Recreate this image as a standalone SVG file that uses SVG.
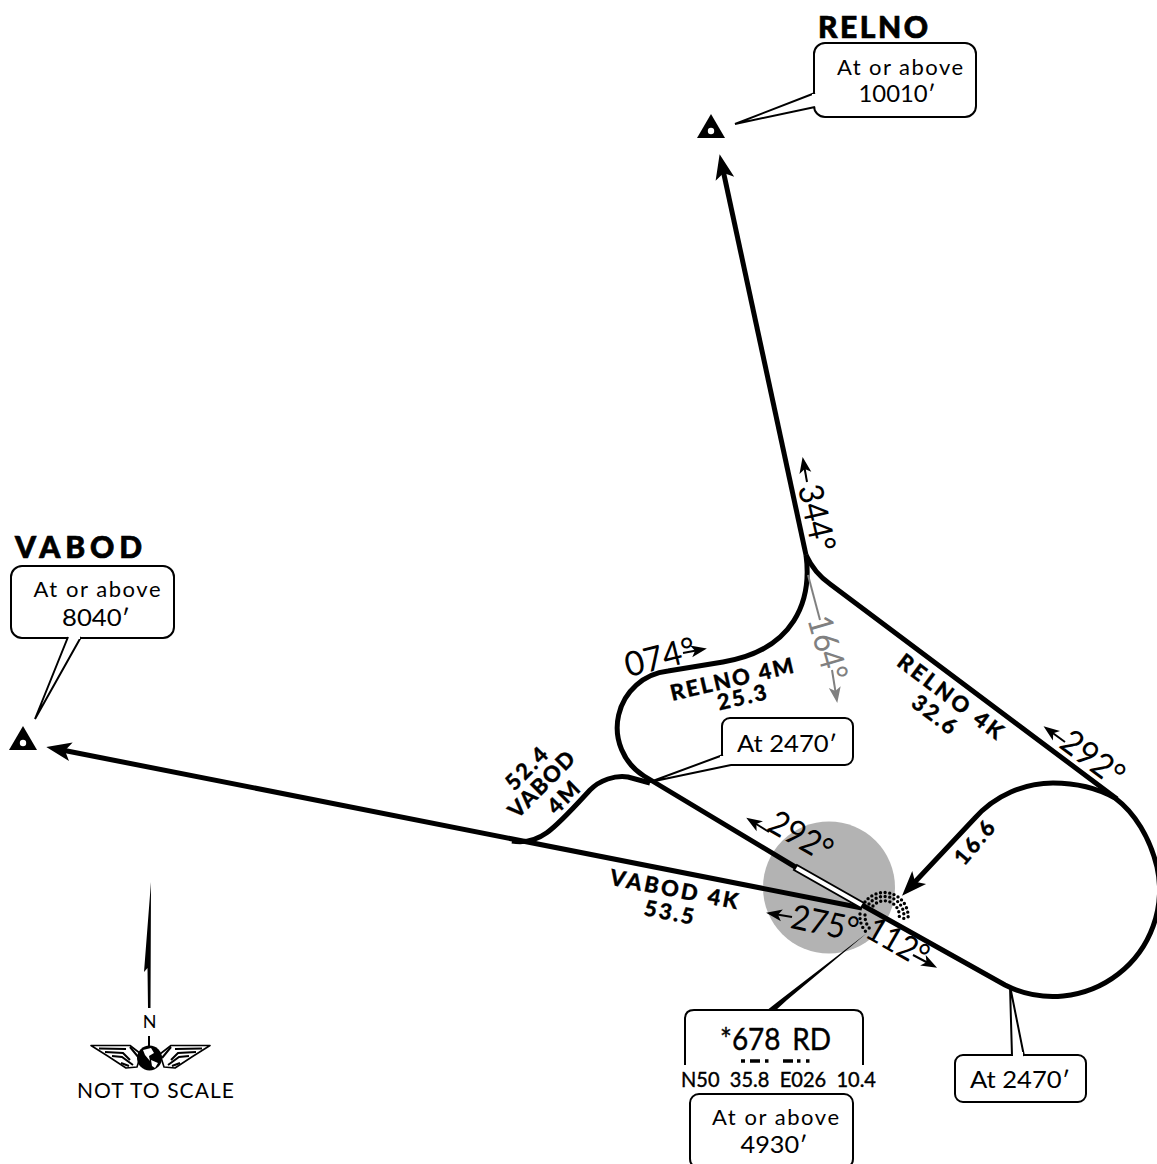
<svg xmlns="http://www.w3.org/2000/svg" width="1157" height="1164" viewBox="0 0 1157 1164">
<style>
text{font-family:"Lato","Liberation Sans",sans-serif;fill:#000;text-anchor:middle}
.t{font-size:24px}
.a{font-size:22px}
.h{font-size:34px}
.l{font-size:22px;font-weight:900;stroke:#000;stroke-width:.3px}
.n{font-size:30px;font-weight:900;stroke:#000;stroke-width:.7px}
.v{stroke:#000;stroke-width:.4px}
.box{fill:#fff;stroke:#000;stroke-width:2}
.lead{fill:#fff;stroke:#000;stroke-width:2;stroke-linejoin:miter}
.r{fill:none;stroke:#000;stroke-width:5}
.hd{fill:none;stroke:#000;stroke-width:2}
.dot{fill:none;stroke:#000;stroke-width:3.4;stroke-linecap:round;stroke-dasharray:0 4.6}
</style>
<defs>
<marker id="big" markerUnits="userSpaceOnUse" markerWidth="40" markerHeight="40" refX="0" refY="0" orient="auto" overflow="visible"><path d="M16 0L-9 -9.500L-3 0L-9 9.500Z" fill="#000"/></marker>
<marker id="sm" markerUnits="userSpaceOnUse" markerWidth="24" markerHeight="24" refX="0" refY="0" orient="auto" overflow="visible"><path d="M8 0L-8 -6L-4 0L-8 6Z" fill="#000"/></marker>
<marker id="smg" markerUnits="userSpaceOnUse" markerWidth="24" markerHeight="24" refX="0" refY="0" orient="auto" overflow="visible"><path d="M8 0L-8 -6L-4 0L-8 6Z" fill="#808080"/></marker>
<g id="wp"><path d="M0 -14L-14 10H14Z" fill="#000"/><circle cy="3" r="3.2" fill="#fff"/></g>
<g id="wing"><path d="M91 1045.500H130L141 1054L137 1067L126 1068Q108 1056 91 1045.500Z" fill="#fff" stroke="#000" stroke-width="1.600" stroke-linejoin="round"/><path d="M99 1048.500L126 1049M105 1052L123 1053L130 1060M112 1056L122 1057L133 1065M130 1047L139 1058M121 1063L129 1066" stroke="#000" stroke-width="2" fill="none"/></g>
</defs>
<circle id="airport-disc" cx="829" cy="887.500" r="66" fill="#b3b3b3"/>
<g id="connectors">
<path class="r" d="M806 555C812 600 795 650 723 662L668 671A57 57 0 0 0 644 776L797 868"/>
<path class="r" d="M806 555C812 568 820 577 830 584L1117 799"/>
<path class="r" d="M512 841C540 846 555 828 590 790C600 780 615 775 628 777L650 783"/>
<path class="r" d="M862 905L1005 985A106.500 106.500 0 0 0 1157 867C1150 838 1135 813 1115 798C1097 788 1075 783 1053 783C1025 783 995 795 974 819L913 884" marker-end="url(#big)"/>
<path class="r" d="M862 908L62 750" marker-end="url(#big)"/>
<path class="r" d="M806 555L723 170" marker-end="url(#big)"/>
<path d="M797 865L864 903L861 908L794 870Z" fill="#fff" stroke="#000" stroke-width="2"/>
<path d="M808 575L820 620" stroke="#808080" stroke-width="2" fill="none"/>
<path class="hd" d="M807 482L804 465" marker-end="url(#sm)"/>
<path class="hd" style="stroke:#808080" d="M832 670L836 695" marker-end="url(#smg)"/>
<path class="hd" d="M1065 742L1050 731" marker-end="url(#sm)"/>
<path class="hd" d="M769 832L753 822" marker-end="url(#sm)"/>
<path class="hd" d="M683 653L699 650" marker-end="url(#sm)"/>
<path class="hd" d="M792 917L774 914" marker-end="url(#sm)"/>
<path class="hd" d="M913 955L930 964" marker-end="url(#sm)"/>
<path class="dot" d="M865 902A24 24 0 0 1 908 919"/>
<path class="dot" d="M869 904A19.500 19.500 0 0 1 903.500 920"/>
<path class="dot" d="M873 906A15 15 0 0 1 899 919"/>
<path class="dot" d="M860 914A24 24 0 0 0 868 934"/>
<path class="dot" d="M865 915A19.500 19.500 0 0 0 871 930"/>
<path d="M867 933L787 1000L775 1011L766 1011L780 1000Z" fill="#000"/>
</g>
<g id="labels">
<text class="h" transform="translate(817 518) rotate(77)" y="12" textLength="68" lengthAdjust="spacingAndGlyphs">344°</text>
<text class="h" style="fill:#808080" transform="translate(828 648) rotate(74)" y="12" textLength="66" lengthAdjust="spacingAndGlyphs">164°</text>
<text class="h" transform="translate(1093 758) rotate(37)" y="12" textLength="70" lengthAdjust="spacingAndGlyphs">292°</text>
<text class="h" transform="translate(801 836) rotate(30)" y="12" textLength="68" lengthAdjust="spacingAndGlyphs">292°</text>
<text class="h" transform="translate(825 923) rotate(12)" y="12" textLength="68" lengthAdjust="spacingAndGlyphs">275°</text>
<text class="h" transform="translate(898 942) rotate(30)" y="12" textLength="66" lengthAdjust="spacingAndGlyphs">112°</text>
<text class="h" transform="translate(660 657) rotate(-14)" y="12" textLength="72" lengthAdjust="spacingAndGlyphs">074°</text>
<text class="l" transform="translate(732 680) rotate(-13)" y="7" textLength="126" lengthAdjust="spacing">RELNO 4M</text>
<text class="l" transform="translate(742 698) rotate(-13)" y="7" textLength="50" lengthAdjust="spacing">25.3</text>
<text class="l" transform="translate(950 697) rotate(37)" y="7" textLength="126" lengthAdjust="spacing">RELNO 4K</text>
<text class="l" transform="translate(934 715) rotate(37)" y="7" textLength="50" lengthAdjust="spacing">32.6</text>
<text class="l" transform="translate(527 769) rotate(-45)" y="7" textLength="50" lengthAdjust="spacing">52.4</text>
<text class="l" transform="translate(542 785) rotate(-45)" y="7" textLength="84" lengthAdjust="spacing">VABOD</text>
<text class="l" transform="translate(564 798) rotate(-45)" y="7" textLength="36" lengthAdjust="spacing">4M</text>
<text class="l" transform="translate(674 890) rotate(11)" y="7" textLength="130" lengthAdjust="spacing">VABOD 4K</text>
<text class="l" transform="translate(669 913) rotate(11)" y="7" textLength="50" lengthAdjust="spacing">53.5</text>
<text class="l" transform="translate(975 843) rotate(-50)" y="7" textLength="50" lengthAdjust="spacing">16.6</text>
</g>
<g id="relno">
<use href="#wp" x="711" y="128"/>
<text class="n" x="873" y="38" textLength="110" lengthAdjust="spacing">RELNO</text>
<rect class="box" x="814" y="43" width="162" height="74" rx="11"/>
<path class="lead" d="M815 93L735 124L815 107"/>
<rect x="812" y="94" width="5" height="12" fill="#fff"/>
<text class="a" x="900" y="75" textLength="126">At or above</text>
<text class="t" x="897" y="102" textLength="77" lengthAdjust="spacingAndGlyphs">10010′</text>
</g>
<g id="vabod">
<use href="#wp" x="23" y="740"/>
<text class="n" x="78.500" y="558" textLength="127" lengthAdjust="spacing">VABOD</text>
<rect class="box" x="11" y="566" width="163" height="72" rx="11"/>
<path class="lead" d="M68 637L35 719L81 637"/>
<rect x="69" y="634" width="11" height="5" fill="#fff"/>
<text class="a" x="97" y="597" textLength="127">At or above</text>
<text class="t" x="96" y="626" textLength="68" lengthAdjust="spacingAndGlyphs">8040′</text>
</g>
<g id="alt-2470-a">
<rect class="box" x="722" y="718" width="131" height="47" rx="8"/>
<path class="lead" d="M723 755L650 782L731 765"/>
<rect x="720" y="756" width="10" height="8" fill="#fff"/>
<text class="t" x="787" y="752" textLength="100" lengthAdjust="spacingAndGlyphs">At 2470′</text>
</g>
<g id="alt-2470-b">
<rect class="box" x="955" y="1055" width="131" height="47" rx="8"/>
<path class="lead" d="M1012 1056L1010 986L1024 1056"/>
<rect x="1013" y="1052" width="10" height="5" fill="#fff"/>
<text class="t" x="1020" y="1088" textLength="100" lengthAdjust="spacingAndGlyphs">At 2470′</text>
</g>
<g id="vor">
<path d="M685 1065V1019Q685 1010 694 1010H854Q863 1010 863 1019V1065" fill="none" stroke="#000" stroke-width="2"/>
<text class="v" x="775.500" y="1050" style="font-size:31px;word-spacing:5px" textLength="111" lengthAdjust="spacingAndGlyphs">*678 RD</text>
<path d="M741 1061h4M750 1061h10M765 1061h3.500M783 1061h10M797 1061h3.500M806 1061h3.500" stroke="#000" stroke-width="3.500" fill="none"/>
<text class="v" x="778.500" y="1087" style="font-size:21px;white-space:pre" textLength="195" lengthAdjust="spacingAndGlyphs">N50  35.8  E026  10.4</text>
<rect class="box" x="690" y="1094" width="163" height="74" rx="9"/>
<text class="a" x="775.500" y="1125" textLength="127">At or above</text>
<text class="t" x="774" y="1153" textLength="67" lengthAdjust="spacingAndGlyphs">4930′</text>
</g>
<g id="north">
<path d="M151 882L144 972L147.500 968L148 1008H150.500Z" fill="#000"/>
<text x="149.500" y="1028" style="font-size:18px">N</text>
<path d="M149 1036V1046" stroke="#000" stroke-width="2"/>
<use href="#wing"/>
<use href="#wing" transform="translate(301 0) scale(-1 1)"/>
<circle cx="149.500" cy="1058" r="12.500" fill="#000"/>
<path d="M143 1050L151 1048L154 1053L149 1056L150 1061L145 1055ZM151 1060L158 1063L155 1068L152 1066Z" fill="#fff"/>
<text x="155.500" y="1098" style="font-size:21px" textLength="157">NOT TO SCALE</text>
</g>
</svg>
